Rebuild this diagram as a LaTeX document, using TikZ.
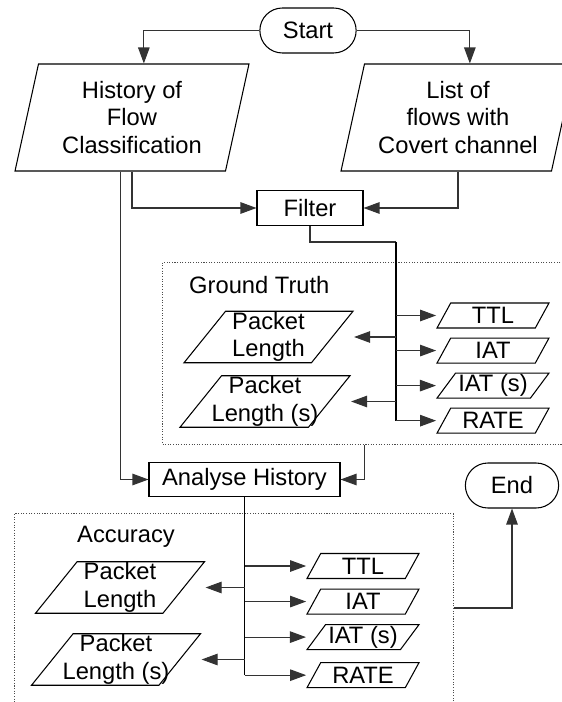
\documentclass[tikz,border=0pt]{standalone}
\usepackage{fontspec}
\setmainfont{Liberation Sans}
\usetikzlibrary{arrows.meta,positioning,shapes.geometric,shapes.misc}

\begin{document}
\begin{tikzpicture}[
    x=0.02cm, y=-0.02cm,
    font=\fontsize{13.5}{15.6}\selectfont,
    term/.style={draw, rounded rectangle, minimum width=2.16cm, minimum height=0.9cm, line width=0.6pt},
    proc/.style={draw, rectangle, minimum height=0.69cm, inner sep=0pt, line width=0.6pt},
    data/.style={draw, trapezium, trapezium left angle=72, trapezium right angle=108, trapezium stretches body,
        minimum width=4.68cm, minimum height=2.14cm, inner xsep=-4mm, inner ysep=0pt, align=center, line width=0.6pt},
    field/.style={data, trapezium left angle=50, trapezium right angle=130, minimum width=3.38cm, minimum height=1.03cm},
    small/.style={data, trapezium left angle=50, trapezium right angle=130, minimum width=2.24cm, minimum height=0.5cm},
    group/.style={draw=black!70, dash pattern=on 0.6pt off 0.9pt, line width=0.6pt, anchor=north west, inner sep=0pt},
    arrow/.style={-{Triangle[length=0.32cm, width=0.23cm]}, line width=0.6pt, draw=black!80},
    line/.style={line width=0.6pt, draw=black!80},
    trunk/.style={line width=1.1pt, draw=black}
]
\useasboundingbox (0,0) rectangle (561,702);

% start and inputs
\node[term] (start) at (308,30.5) {Start};
\node[data] (hist) at (132,117.5) {History of\\Flow\\Classification};
\node[data] (list) at (458,117.5) {List of\\flows with\\Covert channel};
\node[proc, minimum width=2.12cm] (filter) at (310,208) {Filter};

% ground truth
\node[group, minimum width=8.3cm, minimum height=3.64cm] (gt) at (162,262) {};
\node[anchor=west] (gtlbl) at (183,285) {Ground Truth};
\node[field] (gpl) at (268.5,337) {Packet\\Length};
\node[field, minimum width=3.4cm] (gpls) at (265,401.5) {Packet\\Length (s)};
\node[small] (gttl) at (493,315.5) {TTL};
\node[small, below=0.18cm of gttl] (giat) {IAT};
\node[small, below=0.18cm of giat] (giats) {IAT (s)};
\node[small, below=0.18cm of giats] (grate) {RATE};
\coordinate (gtop) at (396,242);

% analyse
\node[proc, minimum width=3.82cm] (analyse) at (244.5,479.5) {Analyse History};
\node[term, minimum width=2.1cm] (stop) at (512,485.5) {End};

% accuracy
\node[group, minimum width=8.78cm, minimum height=4.2cm] (acc) at (14,513) {};
\node (acclbl) at (126,537) {Accuracy};
\node[field] (apl) at (120,587.5) {Packet\\Length};
\node[field] (apls) at (116,659.5) {Packet\\Length (s)};
\node[small] (attl) at (363,566) {TTL};
\node[small, below=0.19cm of attl] (aiat) {IAT};
\node[small, below=0.19cm of aiat] (aiats) {IAT (s)};
\node[small, below=0.24cm of aiats] (arate) {RATE};

% connectors
\draw[arrow] (start.west) -| (hist.top side);
\draw[arrow] (start.east) -| (list.top side);
\draw[arrow] (hist.south) |- (filter.west);
\draw[arrow] (list.south) |- (filter.east);
\draw[arrow] (hist.bottom side) |- (analyse.west);

\draw[line] (filter.south) |- (gtop);
\draw[trunk] (gtop) -- (gtop |- grate);
\draw[arrow] (gtop |- gttl) -- (gttl.bottom left corner |- gttl);
\draw[arrow] (gtop |- giat) -- (giat.bottom left corner |- giat);
\draw[arrow] (gtop |- giats) -- (giats.bottom left corner |- giats);
\draw[arrow] (gtop |- grate) -- (grate.bottom left corner |- grate);
\draw[arrow] (gtop |- gpl) -- (gpl.top right corner |- gpl);
\draw[arrow] (gtop |- gpls) -- (gpls.top right corner |- gpls);
\draw[arrow] ([xshift=4.06cm]gt.south west) |- (analyse.east);

\draw[trunk] (analyse.south) -- (analyse.south |- arate);
\draw[arrow] (analyse.south |- attl) -- (attl.bottom left corner |- attl);
\draw[arrow] (analyse.south |- aiat) -- (aiat.bottom left corner |- aiat);
\draw[arrow] (analyse.south |- aiats) -- (aiats.bottom left corner |- aiats);
\draw[arrow] (analyse.south |- arate) -- (arate.bottom left corner |- arate);
\draw[arrow] (analyse.south |- apl) -- (apl.top right corner |- apl);
\draw[arrow] (analyse.south |- apls) -- (apls.top right corner |- apls);
\draw[arrow] ([yshift=-1.9cm]acc.north east) -| (stop.south);
\end{tikzpicture}
\end{document}
